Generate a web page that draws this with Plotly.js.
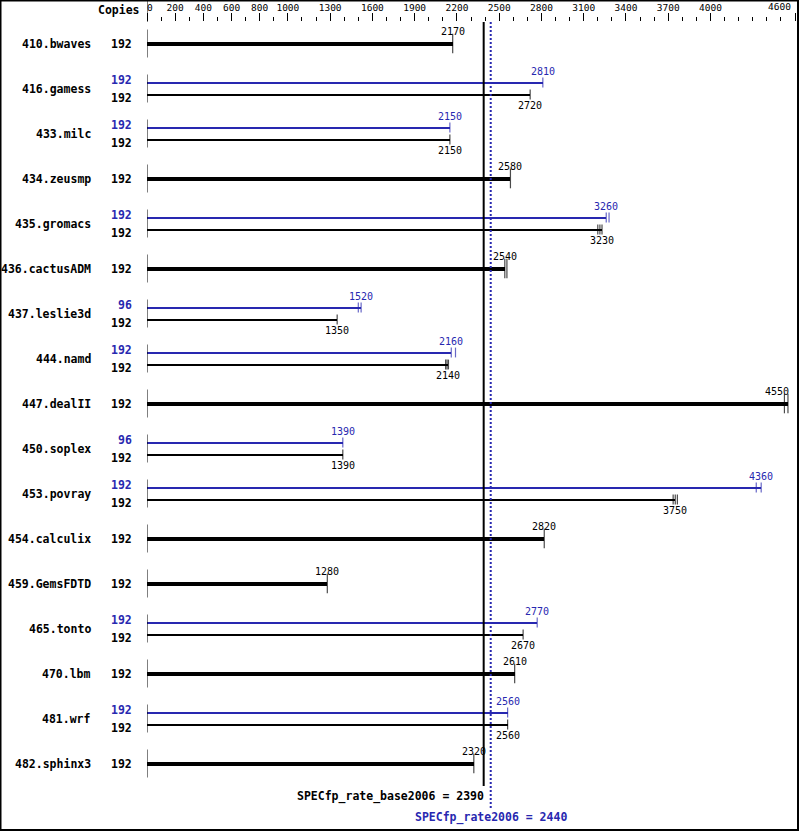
<!DOCTYPE html>
<html><head><meta charset="utf-8">
<script src="https://cdn.plot.ly/plotly-3.0.1.min.js"></script>
<style>html,body{margin:0;padding:0;background:#fff}#chart{width:799px;height:831px}</style>
</head><body><div id="chart"></div>
<script>
const benchmarks = ["410.bwaves","416.gamess","433.milc","434.zeusmp","435.gromacs","436.cactusADM","437.leslie3d","444.namd","447.dealII","450.soplex","453.povray","454.calculix","459.GemsFDTD","465.tonto","470.lbm","481.wrf","482.sphinx3"];
const baseCopies = [192,192,192,192,192,192,192,192,192,192,192,192,192,192,192,192,192];
const peakCopies = [null,192,192,null,192,null,96,192,null,96,192,null,null,192,null,192,null];
const baseValues = [2170,2720,2150,2580,3230,2540,1350,2140,4550,1390,3750,2820,1280,2670,2610,2560,2320];
const peakValues = [null,2810,2150,null,3260,null,1520,2160,null,1390,4360,null,null,2770,null,2560,null];
// additional per-run tick marks
const baseRunsExtra = [[],[],[],[],[3200,3215],[2555],[],[2120,2130],[4525],[],[3735,3765],[],[],[],[],[],[]];
const peakRunsExtra = [[],[],[],[],[3280],[],[1500],[2190],[],[],[4325],[],[],[],[],[],[]];
const tickValues = [0,200,400,600,800,1000,1300,1600,1900,2200,2500,2800,3100,3400,3700,4000,4600];
const baseScore = 2390;
const peakScore = 2440;
const baseScoreLabel = "SPECfp_rate_base2006 = 2390";
const peakScoreLabel = "SPECfp_rate2006 = 2440";
const xMax = 4600;

const W = 799, H = 831;
const X0 = 147, X1 = 795, AXIS_TOP = 22;
const ROW0 = 43.5, ROWH = 45;
const py = p => (p - ROW0) / ROWH;
const u = p => p / ROWH;
const BLUE = '#2828b0';
const MONO = 'DejaVu Sans Mono';

const hasPeak = i => peakValues[i] !== null;
const idx = benchmarks.map((_, i) => i);
const baseY = idx.map(i => hasPeak(i) ? i + u(6) : i);
const peakIdx = idx.filter(hasPeak);
const peakY = peakIdx.map(i => i - u(6));

const traces = [];
traces.push({type:'bar', orientation:'h', x: baseValues, y: baseY, base: 0,
  width: idx.map(i => hasPeak(i) ? u(2) : u(4)),
  marker:{color:'#000', line:{width:0}}, hoverinfo:'skip'});
traces.push({type:'bar', orientation:'h', x: peakIdx.map(i => peakValues[i]), y: peakY, base: 0,
  width: peakIdx.map(() => u(2)),
  marker:{color:BLUE, line:{width:0}}, hoverinfo:'skip'});
const segX = [], segY = [];
idx.forEach(i => { segX.push(0, 0, null); segY.push(i - u(14), i + u(14), null); });
traces.push({type:'scatter', mode:'lines', x: segX, y: segY, line:{color:'#000', width:1}, hoverinfo:'skip', cliponaxis:false});
function tickTrace(vals, ys, extras, sizes, color, list) {
  const tx = [], ty = [], ts = [];
  list.forEach((i, k) => {
    [vals[k]].concat(extras[i]).forEach(v => { tx.push(v); ty.push(ys[k]); ts.push(sizes[k]); });
  });
  return {type:'scatter', mode:'markers', x: tx, y: ty,
    marker:{symbol:'line-ns', size: ts, color: color, line:{color: color, width:1.2}},
    hoverinfo:'skip', cliponaxis:false};
}
traces.push(tickTrace(baseValues, baseY, baseRunsExtra, idx.map(i => hasPeak(i) ? 7 : 14), '#000', idx));
traces.push(tickTrace(peakIdx.map(i => peakValues[i]), peakY, peakRunsExtra, peakIdx.map(() => 7), BLUE, peakIdx));
traces.push({type:'scatter', mode:'lines', x:[baseScore, baseScore], y:[py(AXIS_TOP), py(786)],
  line:{color:'#000', width:2}, hoverinfo:'skip', cliponaxis:false});
traces.push({type:'scatter', mode:'lines', x:[peakScore, peakScore], y:[py(AXIS_TOP), py(808)],
  line:{color:BLUE, width:2, dash:'2px,2px'}, hoverinfo:'skip', cliponaxis:false});

const ann = [];
const boldFont = (c) => ({family: MONO, size: 11.5, color: c, weight: 'bold'});
const numFont = (c) => ({family: MONO, size: 10, color: c});
ann.push({xref:'paper', yref:'paper', x: 142/W, y: 1 - 10/H, xanchor:'right', yanchor:'middle',
  text:'<b>Copies</b>', showarrow:false, font: boldFont('#000')});
function valueAnn(v, y, shift, color) {
  const a = {xref:'x', yref:'y', x: v, y: y, yshift: shift, xanchor:'center', yanchor:'middle',
    text: String(v), showarrow:false, font: numFont(color)};
  if (v > 4450) { a.x = xMax; a.xanchor = 'right'; a.xshift = -4; }
  return a;
}
idx.forEach(i => {
  ann.push({xref:'paper', yref:'y', x: 93/W, y: i, xanchor:'right', yanchor:'middle',
    text:'<b>' + benchmarks[i] + '</b>', showarrow:false, font: boldFont('#000')});
  if (hasPeak(i)) {
    ann.push({xref:'paper', yref:'y', x: 134/W, y: i - u(9), xanchor:'right', yanchor:'middle',
      text:'<b>' + peakCopies[i] + '</b>', showarrow:false, font: boldFont(BLUE)});
    ann.push({xref:'paper', yref:'y', x: 134/W, y: i + u(9), xanchor:'right', yanchor:'middle',
      text:'<b>' + baseCopies[i] + '</b>', showarrow:false, font: boldFont('#000')});
    ann.push(valueAnn(peakValues[i], i - u(6), 11, BLUE));
    ann.push(valueAnn(baseValues[i], i + u(6), -11, '#000'));
  } else {
    ann.push({xref:'paper', yref:'y', x: 134/W, y: i, xanchor:'right', yanchor:'middle',
      text:'<b>' + baseCopies[i] + '</b>', showarrow:false, font: boldFont('#000')});
    ann.push(valueAnn(baseValues[i], i, 12, '#000'));
  }
});
ann.push({xref:'x', yref:'y', x: baseScore, y: py(796), xanchor:'right', yanchor:'middle', xshift: 2,
  text:'<b>' + baseScoreLabel + '</b>', showarrow:false, font: boldFont('#000')});
ann.push({xref:'x', yref:'y', x: peakScore, y: py(817), xanchor:'center', yanchor:'middle',
  text:'<b>' + peakScoreLabel + '</b>', showarrow:false, font: boldFont(BLUE)});

// last tick label drawn right-aligned so it stays inside the frame
const TICKFONT = {family: MONO, size: 9.5, color:'#000'};
ann.push({xref:'x', yref:'paper', x: xMax, y: 1 - 7/H, xanchor:'right', yanchor:'middle', xshift:-2,
  text: String(xMax), showarrow:false, font: TICKFONT});

const tickText = tickValues.map((v, k) => {
  if (k === 0) return '\u00a0' + v;
  if (v === xMax) return '';
  return String(v);
});

const layout = {
  width: W, height: H, margin:{l:0, r:0, t:0, b:0}, paper_bgcolor:'#fff', plot_bgcolor:'#fff',
  showlegend:false, hovermode:false, barmode:'overlay', bargap:0,
  xaxis:{range:[0, xMax], domain:[X0/W, X1/W], side:'top', anchor:'y', tickmode:'array',
    tickvals: tickValues, ticktext: tickText, ticks:'outside', ticklen:8, tickwidth:1, tickcolor:'#000',
    ticklabeloverflow:'allow', ticklabelstandoff:-2,
    showgrid:false, zeroline:false, showline:false, fixedrange:true,
    tickfont: TICKFONT,
    minor:{tickmode:'linear', tick0:0, dtick:100, ticks:'outside', ticklen:4, tickwidth:1, tickcolor:'#000', showgrid:false}},
  yaxis:{range:[py(H), py(AXIS_TOP)], domain:[0, (H - AXIS_TOP)/H], visible:false, fixedrange:true},
  annotations: ann,
  shapes:[
    {type:'rect', xref:'paper', yref:'paper', x0: 0.5/W, x1: 1 - 1/W, y0: 1/H, y1: 1 - 0.5/H, line:{color:'#000', width:2}},
    {type:'line', xref:'x', yref:'paper', x0:0, x1:0, y0:(H - AXIS_TOP)/H, y1:1, line:{color:'#000', width:1}}
  ]
};
Plotly.newPlot('chart', traces, layout, {staticPlot:true, displayModeBar:false});
</script></body></html>
